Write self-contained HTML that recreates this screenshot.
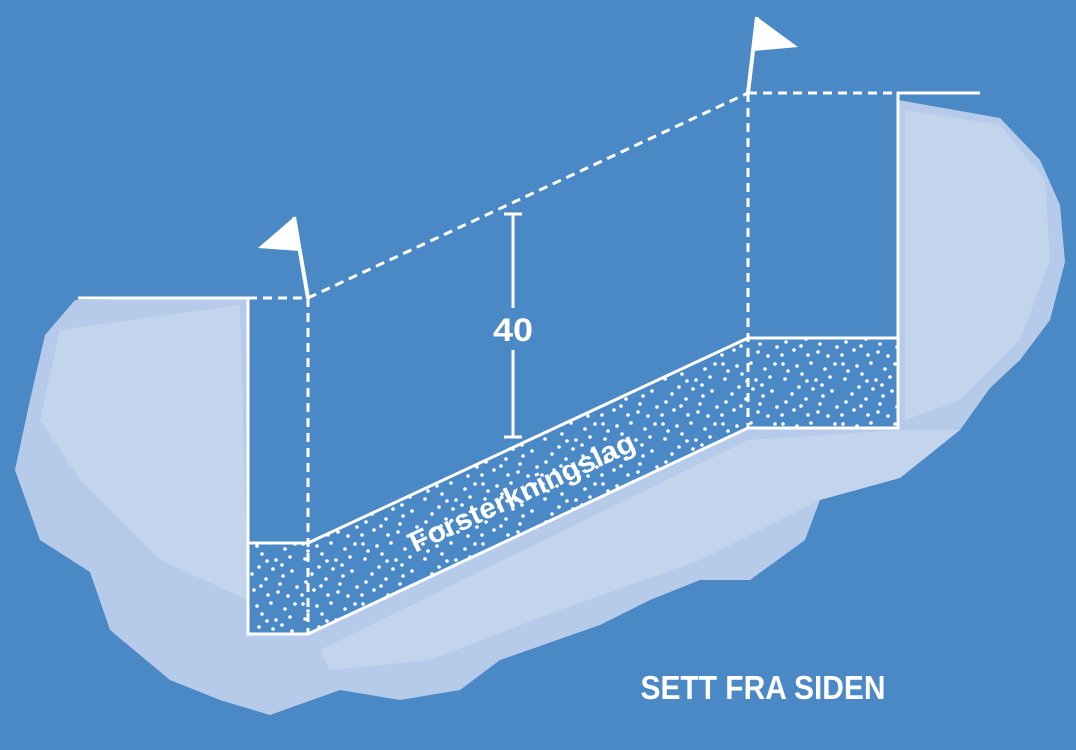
<!DOCTYPE html>
<html><head><meta charset="utf-8"><style>
html,body{margin:0;padding:0;background:#4a88c6;}
svg{display:block}
</style></head><body>
<svg width="1076" height="750" viewBox="0 0 1076 750" xmlns="http://www.w3.org/2000/svg">
<defs>
<pattern id="dots" width="60" height="60" patternUnits="userSpaceOnUse">
<g fill="#fff">
<circle cx="3" cy="4" r="1.8"/><circle cx="8" cy="11" r="1.8"/><circle cx="5" cy="19" r="1.8"/>
<circle cx="17" cy="6" r="1.8"/><circle cx="22" cy="14" r="1.8"/><circle cx="19" cy="27" r="1.8"/>
<circle cx="31" cy="3" r="1.8"/><circle cx="36" cy="20" r="1.8"/><circle cx="33" cy="29" r="1.8"/>
<circle cx="45" cy="9" r="1.8"/><circle cx="50" cy="17" r="1.8"/><circle cx="55" cy="4" r="1.8"/>
<circle cx="12" cy="34" r="1.8"/><circle cx="6" cy="42" r="1.8"/><circle cx="14" cy="50" r="1.8"/>
<circle cx="26" cy="39" r="1.8"/><circle cx="28" cy="55" r="1.8"/><circle cx="40" cy="44" r="1.8"/>
<circle cx="43" cy="36" r="1.8"/><circle cx="52" cy="31" r="1.8"/><circle cx="57" cy="47" r="1.8"/>
<circle cx="48" cy="56" r="1.8"/><circle cx="38" cy="52" r="1.8"/><circle cx="21" cy="46" r="1.8"/>
<circle cx="2" cy="55" r="1.8"/><circle cx="27" cy="21" r="1.8"/><circle cx="42" cy="25" r="1.8"/>
</g>
</pattern>
</defs>
<rect width="1076" height="750" fill="#4a88c6"/>
<!-- blob -->
<path fill="#b6cbe9" d="M75 300 L248 298 L300 430 L748 300 L898 100 L1000 118 L1040 160 L1060 205 L1065 262 L1050 320 L1020 360 L990 388 L960 430 L900 478 L820 500 L805 540 L750 580 L700 580 L650 600 L600 625 L500 660 L460 690 L400 700 L340 690 L270 715 L220 700 L170 680 L110 630 L90 572 L40 540 L15 470 L30 400 L45 335 Z"/>
<g fill="#d3dff2" opacity="0.45">
<path d="M320 650 L748 440 L900 430 L960 430 L900 478 L820 500 L700 560 L560 610 L430 660 L330 670 Z"/>
<path d="M60 330 L240 305 L248 600 L160 560 L80 480 L40 420 Z"/>
<path d="M905 110 L1000 125 L1045 180 L1050 260 L1020 340 L960 400 L905 420 Z"/>
</g>
<!-- trench interior -->
<g fill="#4a88c6">
<rect x="248" y="298" width="60" height="245"/>
<polygon points="308,298 748,93 898,93 898,338 748,338 308,543"/>
<polygon points="248,543 308,543 748,338 898,338 898,428 748,428 308,634 248,634"/>
</g>
<polygon points="248,543 308,543 748,338 898,338 898,428 748,428 308,634 248,634" fill="url(#dots)"/>
<g stroke="#fff" stroke-width="3" fill="none">
<polyline points="78,298 248,298 248,634 308,634 748,428 898,428 898,93 980,93"/>
<line x1="308" y1="543" x2="748" y2="338"/>
<line x1="748" y1="338" x2="898" y2="338"/>
<line x1="248" y1="543" x2="308" y2="543"/>
</g>
<g stroke="#fff" stroke-width="3" fill="none" stroke-dasharray="9,6">
<line x1="248" y1="298" x2="308" y2="298"/>
<line x1="308" y1="298" x2="308" y2="634"/>
<line x1="308" y1="298" x2="748" y2="93"/>
<line x1="748" y1="93" x2="898" y2="93"/>
<line x1="748" y1="93" x2="748" y2="428"/>
</g>
<g stroke="#fff" stroke-width="4">
<line x1="308" y1="298" x2="294" y2="217"/>
<line x1="748" y1="93" x2="757" y2="17"/>
</g>
<polygon points="294,217 258,248 300,251" fill="#fff"/>
<polygon points="757,17 798,47 753,51" fill="#fff"/>
<g stroke="#fff" stroke-width="3">
<line x1="513" y1="213" x2="513" y2="308"/>
<line x1="513" y1="350" x2="513" y2="438"/>
<line x1="504" y1="214" x2="522" y2="214"/>
<line x1="504" y1="437" x2="522" y2="437"/>
</g>
<text x="513" y="341" fill="#fff" font-family="Liberation Sans, sans-serif" font-weight="bold" font-size="32" text-anchor="middle" textLength="40" lengthAdjust="spacingAndGlyphs">40</text>
<text x="522" y="502" fill="#fff" font-family="Liberation Sans, sans-serif" font-weight="bold" font-size="29" text-anchor="middle" textLength="245" lengthAdjust="spacingAndGlyphs" transform="rotate(-25 522 492)">Forsterkningslag</text>
<text x="763" y="699" fill="#fff" font-family="Liberation Sans, sans-serif" font-weight="bold" font-size="33" text-anchor="middle" textLength="245" lengthAdjust="spacingAndGlyphs">SETT FRA SIDEN</text>
</svg>
</body></html>
